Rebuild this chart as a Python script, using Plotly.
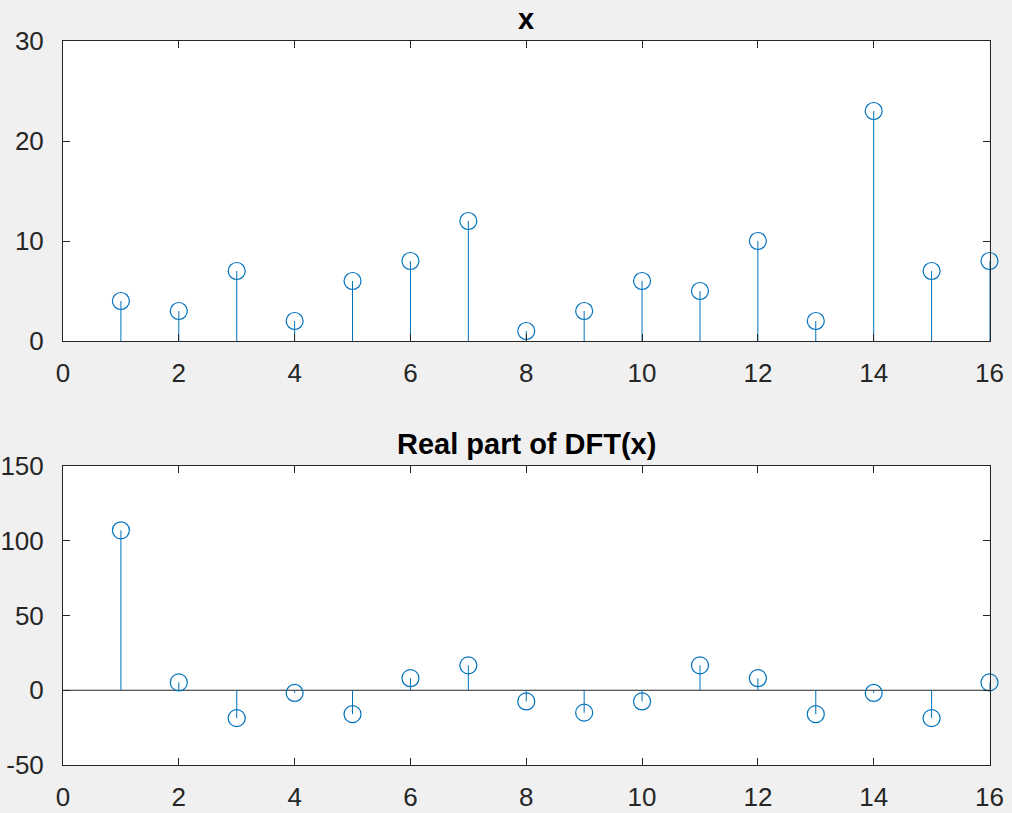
import plotly.graph_objects as go

n = list(range(1, 17))
x_vals = [4, 3, 7, 2, 6, 8, 12, 1, 3, 6, 5, 10, 2, 23, 7, 8]
dft_real = [107, 5.25, -18.68, -1.82, -16, 8.06, 16.68, -7.5, -15, -7.5, 16.68, 8.06, -16, -1.82, -18.68, 5.25]

x_ticks = list(range(0, 17, 2))
y1_ticks = [0, 10, 20, 30]
y2_ticks = [-50, 0, 50, 100, 150]
top_title = "x"
bottom_title = "Real part of DFT(x)"

BLUE = "#0072BD"
AX = "#262626"
FONT = "Liberation Sans, Arial, Helvetica, sans-serif"

W, H = 1012, 813
def px_x(p): return p / W
def px_y(p): return 1 - p / H

fig = go.Figure()

def add_stem(xs, ys, xa, ya):
    sx, sy = [], []
    for a, b in zip(xs, ys):
        sx += [a, a, None]
        sy += [0, b, None]
    fig.add_trace(go.Scatter(x=sx, y=sy, mode="lines", line=dict(color=BLUE, width=1),
                             xaxis=xa, yaxis=ya, showlegend=False, hoverinfo="skip"))
    fig.add_trace(go.Scatter(x=xs, y=ys, mode="markers", cliponaxis=False,
                             marker=dict(symbol="circle-open", size=17, color=BLUE,
                                         line=dict(color=BLUE, width=1.2)),
                             xaxis=xa, yaxis=ya, showlegend=False))

add_stem(n, x_vals, "x", "y")
add_stem(n, dft_real, "x2", "y2")

xd = [px_x(63), px_x(989.5)]
axis_common = dict(showline=True, mirror="allticks", linecolor=AX, linewidth=1,
                   ticks="inside", ticklen=7, tickcolor=AX, tickwidth=1,
                   showgrid=False, zeroline=False, automargin=False,
                   tickfont=dict(family=FONT, size=26, color=AX))

def labels(v): return [str(t).replace("\u2212", "-") for t in v]

fig.update_layout(
    width=W, height=H,
    margin=dict(l=0, r=0, t=0, b=0),
    paper_bgcolor="#f0f0f0", plot_bgcolor="white",
    xaxis=dict(domain=xd, range=[0, 16], tickvals=x_ticks, ticktext=labels(x_ticks),
               anchor="y", ticklabelstandoff=9, **axis_common),
    yaxis=dict(domain=[px_y(341), px_y(41)], range=[0, 30], tickvals=y1_ticks, ticktext=labels(y1_ticks),
               anchor="x", ticklabelstandoff=13, **axis_common),
    xaxis2=dict(domain=xd, range=[0, 16], tickvals=x_ticks, ticktext=labels(x_ticks),
                anchor="y2", ticklabelstandoff=9, **axis_common),
    yaxis2=dict(domain=[px_y(765), px_y(466)], range=[-50, 150], tickvals=y2_ticks, ticktext=labels(y2_ticks),
                anchor="x2", ticklabelstandoff=13, **axis_common),
)

fig.add_shape(type="line", xref="x2", yref="y2", x0=0, x1=16, y0=0, y1=0,
              line=dict(color=AX, width=1), layer="below")

fig.add_annotation(text="<b>%s</b>" % top_title, x=(xd[0] + xd[1]) / 2, y=px_y(41), xref="paper", yref="paper",
                   xanchor="center", yanchor="bottom", yshift=4, showarrow=False,
                   font=dict(family=FONT, size=29, color="black"))
fig.add_annotation(text="<b>%s</b>" % bottom_title, x=(xd[0] + xd[1]) / 2, y=px_y(466), xref="paper", yref="paper",
                   xanchor="center", yanchor="bottom", yshift=4, showarrow=False,
                   font=dict(family=FONT, size=29, color="black"))

fig.write_html("out.html")
